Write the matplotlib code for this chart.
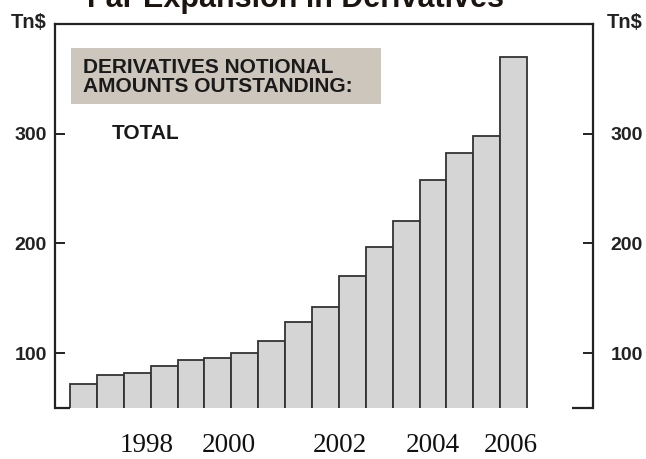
import numpy as np
import matplotlib.pyplot as plt
from matplotlib.patches import Rectangle
from matplotlib.transforms import ScaledTranslation

# notional amounts outstanding, Tn$ (half-yearly, Jun 1998 .. Jun 2006)
periods = ["Jun98", "Dec98", "Jun99", "Dec99", "Jun00", "Dec00", "Jun01", "Dec01",
           "Jun02", "Dec02", "Jun03", "Dec03", "Jun04", "Dec04", "Jun05", "Dec05", "Jun06"]
total = [72, 80, 82, 88, 94, 96, 100, 111, 128, 142, 170, 197, 220, 258, 282, 298, 370]

year_labels = ["1998", "2000", "2002", "2004", "2006"]
year_pos = [2.35, 5.4, 9.55, 13.0, 15.9]

fig = plt.figure(figsize=(6.46, 4.59), dpi=100)
ax = fig.add_axes([55 / 646, 1 - 408 / 459, 538 / 646, 384 / 459])

x = np.arange(len(total))
ax.bar(x, total, width=1.0, color="#d5d5d5", edgecolor="#333333", linewidth=1.3,
       zorder=2)

ax.set_xlim(-1.057, 18.95)
ax.set_ylim(50, 400)

for side in ["left", "top", "right"]:
    ax.spines[side].set_linewidth(1.6)
    ax.spines[side].set_color("#222222")
ax.spines["bottom"].set_visible(False)

# short bottom stubs at both corners
ax.plot([0, 15 / 538], [0, 0], transform=ax.transAxes, color="#222222", lw=1.6,
        clip_on=False, solid_capstyle="butt")
ax.plot([517 / 538, 1], [0, 0], transform=ax.transAxes, color="#222222", lw=1.6,
        clip_on=False, solid_capstyle="butt")

ax.set_yticks([100, 200, 300])
ax.tick_params(axis="y", which="both", direction="in", length=7.5, width=1.4,
               color="#222222", left=True, right=True, labelleft=True,
               labelright=True, pad=6)
shift = ScaledTranslation(9 / 100, 0, fig.dpi_scale_trans)
for t in ax.yaxis.get_major_ticks():
    for lbl in (t.label1, t.label2):
        lbl.set_fontfamily("Liberation Sans")
        lbl.set_fontweight("bold")
        lbl.set_fontsize(14)
        lbl.set_color("#222222")
    t.label2.set_transform(t.label2.get_transform() + shift)

ax.set_xticks(year_pos, year_labels)
ax.tick_params(axis="x", length=0, pad=18)
for lbl in ax.get_xticklabels():
    lbl.set_fontfamily("Liberation Serif")
    lbl.set_fontsize(19.5)
    lbl.set_color("#111111")

# caption box
ax.add_patch(Rectangle((16 / 538, 0.7917), 310 / 538, 0.146, transform=ax.transAxes,
                       facecolor="#cdc6bd", edgecolor="none", zorder=3))
ax.text(28 / 538, 0.862, "DERIVATIVES NOTIONAL\nAMOUNTS OUTSTANDING:",
        transform=ax.transAxes, ha="left", va="center", fontsize=15,
        fontweight="bold", family="Liberation Sans", linespacing=0.95,
        color="#1a1a1a", zorder=4)
ax.text(57 / 538, 0.716, "TOTAL", transform=ax.transAxes, ha="left", va="center",
        fontsize=15, fontweight="bold", family="Liberation Sans", color="#1a1a1a")

fig.text(47 / 646, 1 - 23 / 459, "Tn$", ha="right", va="center", fontsize=14.5,
         fontweight="bold", family="Liberation Sans", color="#222222")
fig.text(607 / 646, 1 - 23 / 459, "Tn$", ha="left", va="center", fontsize=14.5,
         fontweight="bold", family="Liberation Sans", color="#222222")

fig.text(87 / 646, 1 - 7 / 459, "Far Expansion in Derivatives", ha="left",
         va="baseline", fontsize=22, fontweight="bold", family="Liberation Sans",
         color="#1c1410")

fig.savefig("out.png", dpi=100)
